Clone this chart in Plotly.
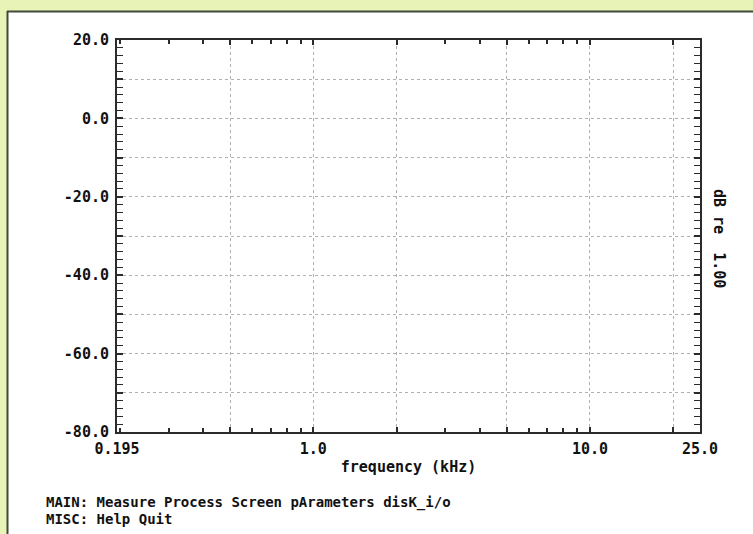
import math
import plotly.graph_objects as go

# ---- data / axis definitions ----
X_MIN, X_MAX = 0.195, 25.0
X_LABEL_VALS = [0.195, 1.0, 10.0, 25.0]
X_LABEL_TEXT = ["0.195", "1.0", "10.0", "25.0"]
X_GRID = [0.5, 1, 2, 5, 10, 20]
X_MINOR = [0.2, 0.3, 0.4, 0.6, 0.7, 0.8, 0.9, 3, 4, 6, 7, 8, 9]
Y_MIN, Y_MAX = -80, 20
Y_GRID = [-80, -70, -60, -50, -40, -30, -20, -10, 0, 10, 20]
Y_TEXT = ["-80.0", "", "-60.0", "", "-40.0", "", "-20.0", "", "0.0", "", "20.0"]
X_TITLE = "frequency (kHz)"
Y_TITLE = "dB re\u00a0 1.00"
MENU_MAIN = "MAIN: Measure Process Screen pArameters disK_i/o"
MENU_MISC = "MISC: Help Quit"

W, H = 753, 534
L, R, T, B = 117, 53, 40, 102
PW, PH = W - L - R, H - T - B

def px(x):
    return (x - L) / PW

def py(y):
    return (H - B - y) / PH

FONT = "DejaVu Sans Mono"
AX = "#2b2b2b"
GRID = "#b0b0b0"
BG = "#e8f3b8"

fig = go.Figure()
fig.add_trace(go.Scatter(x=[], y=[], mode="lines", showlegend=False))
fig.add_trace(go.Scatter(x=[], y=[], xaxis="x2", mode="lines", showlegend=False))

xr = [math.log10(X_MIN), math.log10(X_MAX)]
tfont = dict(family=FONT, size=15, color="#111", weight="bold")
mfont = dict(family=FONT, size=14, color="#111", weight="bold")

fig.update_layout(
    width=W, height=H,
    margin=dict(l=L, r=R, t=T, b=B, autoexpand=False),
    paper_bgcolor=BG,
    plot_bgcolor="white",
    showlegend=False,
    xaxis=dict(
        type="log", range=xr, tickmode="array", tickvals=X_GRID, automargin=False,
        showticklabels=False, ticks="inside", ticklen=5, tickwidth=1.5, tickcolor=AX,
        showgrid=True, gridcolor=GRID, griddash="dot", gridwidth=1,
        showline=True, linecolor=AX, linewidth=2, mirror="allticks", zeroline=False,
        minor=dict(tickmode="array", tickvals=X_MINOR, ticks="inside", ticklen=4,
                   tickwidth=1.5, tickcolor=AX, showgrid=False),
    ),
    xaxis2=dict(
        type="log", range=xr, overlaying="x", side="bottom", anchor="y", automargin=False,
        tickmode="array", tickvals=X_LABEL_VALS, ticktext=X_LABEL_TEXT,
        ticks="", showgrid=False, showline=False, zeroline=False,
        tickfont=tfont, ticklabelstandoff=6,
        title=dict(text=X_TITLE, font=tfont, standoff=4),
    ),
    yaxis=dict(
        range=[Y_MIN, Y_MAX], tickmode="array", tickvals=Y_GRID, ticktext=Y_TEXT, automargin=False,
        ticks="inside", ticklen=6, tickwidth=1.5, tickcolor=AX,
        showgrid=True, gridcolor=GRID, griddash="dot", gridwidth=1,
        showline=True, linecolor=AX, linewidth=2, mirror="allticks", zeroline=False,
        tickfont=tfont, ticklabelstandoff=3,
        minor=dict(dtick=2, ticks="inside", ticklen=3, tickwidth=1, tickcolor=AX, showgrid=False),
    ),
)

# white sheet with dark border on the coloured background
fig.add_shape(type="rect", xref="paper", yref="paper", layer="below",
              x0=px(8), x1=px(W + 5), y0=py(H + 5), y1=py(12),
              fillcolor="white", line=dict(width=0))
fig.add_shape(type="line", xref="paper", yref="paper", x0=px(7), x1=px(W + 5), y0=py(11.5), y1=py(11.5),
              line=dict(color="#3f4a38", width=2))
fig.add_shape(type="line", xref="paper", yref="paper", x0=px(7.5), x1=px(7.5), y0=py(11), y1=py(H + 5),
              line=dict(color="#3f4a38", width=2))

fig.add_annotation(text=Y_TITLE, xref="paper", yref="paper", x=px(719), y=py(238),
                   xanchor="center", yanchor="middle",
                   textangle=90, showarrow=False, font=tfont)
fig.add_annotation(text=MENU_MAIN, xref="paper", yref="paper", x=px(44), y=py(502),
                   xanchor="left", yanchor="middle", showarrow=False, font=mfont)
fig.add_annotation(text=MENU_MISC, xref="paper", yref="paper", x=px(44), y=py(519),
                   xanchor="left", yanchor="middle", showarrow=False, font=mfont)

fig.write_html("out.html", config={"displayModeBar": False},
               post_script="document.body.style.margin='0';document.body.style.padding='0';")
